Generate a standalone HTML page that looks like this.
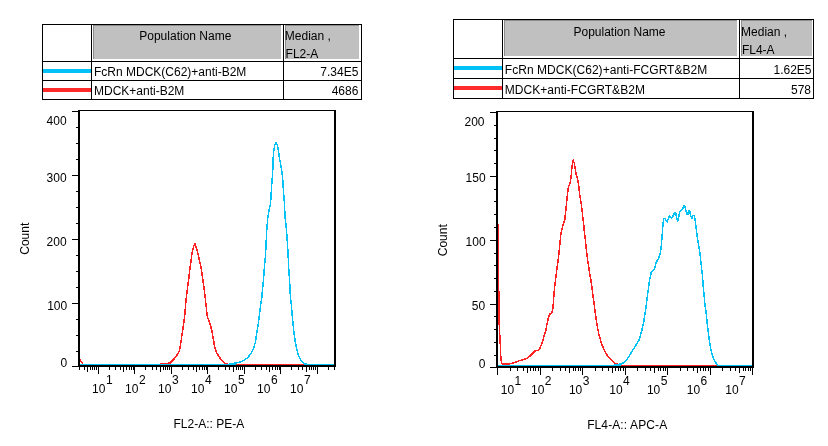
<!DOCTYPE html>
<html><head><meta charset="utf-8"><title>Histograms</title>
<style>
html,body{margin:0;padding:0;background:#fff;}
body{width:828px;height:446px;overflow:hidden;}
svg{display:block;}
svg text{font-family:"Liberation Sans",Arial,Helvetica,sans-serif;font-size:12px;fill:#000;}
</style></head><body>
<svg width="828" height="446" viewBox="0 0 828 446">
<rect width="828" height="446" fill="#fff"/>
<rect x="93" y="25" width="188" height="34" fill="#8c8c8c"/>
<rect x="94" y="26" width="187" height="33" fill="#c0c0c0"/>
<rect x="285" y="25" width="74" height="34" fill="#8c8c8c"/>
<rect x="286" y="26" width="73" height="33" fill="#c0c0c0"/>
<rect x="43" y="69" width="48" height="4" fill="#00c2f6"/>
<rect x="43" y="88" width="48" height="4" fill="#ff2a2a"/>
<rect x="42" y="24" width="320" height="1" fill="#000"/>
<rect x="42" y="61" width="320" height="1" fill="#000"/>
<rect x="42" y="80" width="320" height="1" fill="#000"/>
<rect x="42" y="99" width="320" height="1" fill="#000"/>
<rect x="42" y="24" width="1" height="76" fill="#000"/>
<rect x="91" y="24" width="1" height="76" fill="#000"/>
<rect x="283" y="24" width="1" height="76" fill="#000"/>
<rect x="361" y="24" width="1" height="76" fill="#000"/>
<text x="185.30" y="40.00" text-anchor="middle" >Population Name</text>
<text x="284.80" y="39.50" text-anchor="start" >Median ,</text>
<text x="285.60" y="57.50" text-anchor="start" >FL2-A</text>
<text x="94.00" y="76.00" text-anchor="start" >FcRn MDCK(C62)+anti-B2M</text>
<text x="358.40" y="76.00" text-anchor="end" >7.34E5</text>
<text x="94.00" y="94.50" text-anchor="start" >MDCK+anti-B2M</text>
<text x="358.40" y="94.50" text-anchor="end" >4686</text>
<rect x="504" y="20" width="233" height="36" fill="#8c8c8c"/>
<rect x="505" y="21" width="232" height="35" fill="#c0c0c0"/>
<rect x="741" y="20" width="71" height="36" fill="#8c8c8c"/>
<rect x="742" y="21" width="70" height="35" fill="#c0c0c0"/>
<rect x="454" y="66" width="48" height="4" fill="#00c2f6"/>
<rect x="454" y="86" width="48" height="4" fill="#ff2a2a"/>
<rect x="453" y="19" width="361" height="1" fill="#000"/>
<rect x="453" y="58" width="361" height="1" fill="#000"/>
<rect x="453" y="78" width="361" height="1" fill="#000"/>
<rect x="453" y="98" width="361" height="1" fill="#000"/>
<rect x="453" y="19" width="1" height="80" fill="#000"/>
<rect x="502" y="19" width="1" height="80" fill="#000"/>
<rect x="739" y="19" width="1" height="80" fill="#000"/>
<rect x="813" y="19" width="1" height="80" fill="#000"/>
<text x="619.50" y="36.00" text-anchor="middle" >Population Name</text>
<text x="741.10" y="35.75" text-anchor="start" >Median ,</text>
<text x="741.90" y="53.60" text-anchor="start" >FL4-A</text>
<text x="504.80" y="73.50" text-anchor="start" letter-spacing="0.035">FcRn MDCK(C62)+anti-FCGRT&amp;B2M</text>
<text x="811.50" y="73.50" text-anchor="end" >1.62E5</text>
<text x="504.80" y="94.20" text-anchor="start" letter-spacing="0.035">MDCK+anti-FCGRT&amp;B2M</text>
<text x="811.00" y="94.20" text-anchor="end" >578</text>
<rect x="80" y="364" width="156" height="1" fill="#00c2f6"/>
<rect x="304" y="364" width="30" height="1" fill="#00c2f6"/>
<polyline points="229.9,363.8 237.0,362.8 241.8,361.6 245.0,359.6 247.9,357.5 251.2,353.1 253.6,348.2 255.3,342.5 256.6,334.3 258.2,324.5 259.4,314.6 260.7,304.8 261.9,296.5 262.7,287.9 263.7,277.2 264.6,264.7 265.4,257.0 265.8,248.8 266.3,239.2 266.9,227.6 267.9,217.0 269.0,210.7 270.6,203.0 271.1,194.3 271.7,184.7 272.4,176.0 272.8,168.8 273.0,160.1 273.6,152.4 274.6,145.6 276.0,142.7 277.5,145.6 278.5,151.4 279.4,158.2 280.6,164.0 281.7,170.7 282.5,177.0 283.1,184.7 283.7,194.3 284.4,203.0 284.8,211.7 285.0,217.0 286.0,224.7 286.8,234.3 287.5,244.0 288.2,257.0 288.8,269.5 289.5,279.2 290.0,288.8 290.4,297.0 291.3,304.8 292.1,314.6 293.1,324.5 294.1,334.3 295.4,342.5 296.7,349.0 298.3,354.7 300.6,359.6 303.2,362.9 306.0,364.0" fill="none" stroke="#00c2f6" stroke-width="1.5" stroke-linejoin="round" stroke-linecap="round" shape-rendering="crispEdges"/>
<rect x="236" y="364" width="68" height="1" fill="#ff2222"/>
<polyline points="160.9,363.5 169.9,363.2 174.0,359.0 177.6,354.2 179.4,350.7 180.9,342.3 182.3,332.8 183.5,324.5 184.7,316.2 186.1,299.2 187.5,287.6 189.0,276.9 189.5,271.7 190.7,263.0 191.9,254.3 193.3,247.6 194.8,243.5 196.2,247.6 198.2,254.3 199.6,261.1 201.1,267.9 202.5,277.5 204.0,287.6 205.4,299.2 207.3,316.5 209.9,323.3 211.8,330.5 213.3,338.8 214.5,345.9 216.2,351.9 218.6,356.0 221.6,360.2 224.6,363.2 226.9,363.5" fill="none" stroke="#ff2222" stroke-width="1.5" stroke-linejoin="round" stroke-linecap="round" shape-rendering="crispEdges"/>
<polyline points="80.3,360.2 81.3,361.8 82.8,363.7" fill="none" stroke="#ff2222" stroke-width="1.5" stroke-linejoin="round" stroke-linecap="round" shape-rendering="crispEdges"/>
<rect x="78" y="110" width="2" height="257" fill="#000"/>
<rect x="78" y="110" width="258" height="1" fill="#000"/>
<rect x="334" y="110" width="2" height="257" fill="#000"/>
<rect x="78" y="365" width="258" height="2" fill="#000"/>
<rect x="72" y="111" width="6" height="1" fill="#000"/>
<rect x="72" y="175" width="6" height="1" fill="#000"/>
<rect x="72" y="239" width="6" height="1" fill="#000"/>
<rect x="72" y="303" width="6" height="1" fill="#000"/>
<rect x="72" y="366" width="6" height="1" fill="#000"/>
<rect x="76" y="127" width="2" height="1" fill="#000"/>
<rect x="76" y="143" width="2" height="1" fill="#000"/>
<rect x="76" y="159" width="2" height="1" fill="#000"/>
<rect x="76" y="191" width="2" height="1" fill="#000"/>
<rect x="76" y="207" width="2" height="1" fill="#000"/>
<rect x="76" y="223" width="2" height="1" fill="#000"/>
<rect x="76" y="255" width="2" height="1" fill="#000"/>
<rect x="76" y="271" width="2" height="1" fill="#000"/>
<rect x="76" y="287" width="2" height="1" fill="#000"/>
<rect x="76" y="319" width="2" height="1" fill="#000"/>
<rect x="76" y="335" width="2" height="1" fill="#000"/>
<rect x="76" y="351" width="2" height="1" fill="#000"/>
<text x="66.60" y="125.00" text-anchor="end" >400</text>
<text x="66.60" y="181.50" text-anchor="end" >300</text>
<text x="66.60" y="245.50" text-anchor="end" >200</text>
<text x="67.20" y="309.50" text-anchor="end" >100</text>
<text x="67.30" y="367.10" text-anchor="end" >0</text>
<rect x="79" y="367" width="1" height="3" fill="#000"/>
<rect x="84" y="367" width="1" height="3" fill="#000"/>
<rect x="87" y="367" width="1" height="5" fill="#000"/>
<rect x="90" y="367" width="1" height="3" fill="#000"/>
<rect x="92" y="367" width="1" height="3" fill="#000"/>
<rect x="94" y="367" width="1" height="3" fill="#000"/>
<rect x="96" y="367" width="1" height="3" fill="#000"/>
<rect x="98" y="367" width="1" height="7" fill="#000"/>
<rect x="109" y="367" width="1" height="3" fill="#000"/>
<rect x="115" y="367" width="1" height="3" fill="#000"/>
<rect x="120" y="367" width="1" height="3" fill="#000"/>
<rect x="123" y="367" width="1" height="5" fill="#000"/>
<rect x="126" y="367" width="1" height="3" fill="#000"/>
<rect x="129" y="367" width="1" height="3" fill="#000"/>
<rect x="131" y="367" width="1" height="3" fill="#000"/>
<rect x="133" y="367" width="1" height="3" fill="#000"/>
<rect x="134" y="367" width="1" height="7" fill="#000"/>
<rect x="145" y="367" width="1" height="3" fill="#000"/>
<rect x="152" y="367" width="1" height="3" fill="#000"/>
<rect x="156" y="367" width="1" height="3" fill="#000"/>
<rect x="160" y="367" width="1" height="5" fill="#000"/>
<rect x="163" y="367" width="1" height="3" fill="#000"/>
<rect x="165" y="367" width="1" height="3" fill="#000"/>
<rect x="167" y="367" width="1" height="3" fill="#000"/>
<rect x="169" y="367" width="1" height="3" fill="#000"/>
<rect x="171" y="367" width="1" height="7" fill="#000"/>
<rect x="182" y="367" width="1" height="3" fill="#000"/>
<rect x="188" y="367" width="1" height="3" fill="#000"/>
<rect x="193" y="367" width="1" height="3" fill="#000"/>
<rect x="196" y="367" width="1" height="5" fill="#000"/>
<rect x="199" y="367" width="1" height="3" fill="#000"/>
<rect x="202" y="367" width="1" height="3" fill="#000"/>
<rect x="204" y="367" width="1" height="3" fill="#000"/>
<rect x="206" y="367" width="1" height="3" fill="#000"/>
<rect x="207" y="367" width="1" height="7" fill="#000"/>
<rect x="218" y="367" width="1" height="3" fill="#000"/>
<rect x="225" y="367" width="1" height="3" fill="#000"/>
<rect x="229" y="367" width="1" height="3" fill="#000"/>
<rect x="233" y="367" width="1" height="5" fill="#000"/>
<rect x="236" y="367" width="1" height="3" fill="#000"/>
<rect x="238" y="367" width="1" height="3" fill="#000"/>
<rect x="240" y="367" width="1" height="3" fill="#000"/>
<rect x="242" y="367" width="1" height="3" fill="#000"/>
<rect x="244" y="367" width="1" height="7" fill="#000"/>
<rect x="255" y="367" width="1" height="3" fill="#000"/>
<rect x="261" y="367" width="1" height="3" fill="#000"/>
<rect x="266" y="367" width="1" height="3" fill="#000"/>
<rect x="269" y="367" width="1" height="5" fill="#000"/>
<rect x="272" y="367" width="1" height="3" fill="#000"/>
<rect x="275" y="367" width="1" height="3" fill="#000"/>
<rect x="277" y="367" width="1" height="3" fill="#000"/>
<rect x="279" y="367" width="1" height="3" fill="#000"/>
<rect x="280" y="367" width="1" height="7" fill="#000"/>
<rect x="291" y="367" width="1" height="3" fill="#000"/>
<rect x="298" y="367" width="1" height="3" fill="#000"/>
<rect x="302" y="367" width="1" height="3" fill="#000"/>
<rect x="306" y="367" width="1" height="5" fill="#000"/>
<rect x="309" y="367" width="1" height="3" fill="#000"/>
<rect x="311" y="367" width="1" height="3" fill="#000"/>
<rect x="313" y="367" width="1" height="3" fill="#000"/>
<rect x="315" y="367" width="1" height="3" fill="#000"/>
<rect x="317" y="367" width="1" height="7" fill="#000"/>
<rect x="328" y="367" width="1" height="3" fill="#000"/>
<rect x="334" y="367" width="1" height="3" fill="#000"/>
<text x="92.10" y="393.10" text-anchor="start" >10</text>
<text x="105.90" y="384.00" text-anchor="start" >1</text>
<text x="125.10" y="393.10" text-anchor="start" >10</text>
<text x="138.90" y="384.00" text-anchor="start" >2</text>
<text x="158.10" y="393.10" text-anchor="start" >10</text>
<text x="171.90" y="384.00" text-anchor="start" >3</text>
<text x="191.10" y="393.10" text-anchor="start" >10</text>
<text x="204.90" y="384.00" text-anchor="start" >4</text>
<text x="224.10" y="393.10" text-anchor="start" >10</text>
<text x="237.90" y="384.00" text-anchor="start" >5</text>
<text x="257.10" y="393.10" text-anchor="start" >10</text>
<text x="270.90" y="384.00" text-anchor="start" >6</text>
<text x="290.10" y="393.10" text-anchor="start" >10</text>
<text x="303.90" y="384.00" text-anchor="start" >7</text>
<text x="208.80" y="427.60" text-anchor="middle" >FL2-A:: PE-A</text>
<text transform="translate(29.30,238.70) rotate(-90)" text-anchor="middle">Count</text>
<rect x="498" y="365" width="122" height="1" fill="#00c2f6"/>
<rect x="717" y="365" width="35" height="1" fill="#00c2f6"/>
<polyline points="614.3,364.9 621.7,363.8 625.1,361.8 628.5,357.1 631.8,351.7 635.2,346.3 639.2,339.6 641.9,330.2 643.9,320.8 645.4,311.6 646.8,300.9 648.3,289.3 649.7,278.7 650.4,277.0 651.1,272.2 654.5,268.8 656.4,262.1 658.8,258.2 660.5,252.4 661.4,244.7 662.1,236.5 662.7,227.9 663.2,223.0 663.7,218.7 664.9,218.4 665.6,220.3 667.1,221.9 668.2,219.2 669.5,215.8 670.7,217.0 671.9,218.0 673.3,215.3 674.6,212.6 675.7,213.2 676.7,218.2 677.7,220.9 678.6,218.2 679.6,212.4 681.1,210.5 682.5,209.0 684.0,205.4 684.9,206.4 685.9,210.9 686.9,214.3 687.8,214.8 688.6,210.9 689.8,210.9 690.7,215.8 692.0,218.0 693.0,215.5 694.3,215.5 695.1,220.1 696.0,226.9 697.0,235.0 698.5,244.7 699.9,252.4 700.9,262.1 701.8,269.8 702.6,277.5 703.0,284.7 704.0,294.3 704.9,304.0 706.2,313.6 706.6,317.5 707.4,324.9 708.6,334.7 709.8,343.4 711.4,352.0 713.3,358.2 715.1,361.9 717.6,364.9" fill="none" stroke="#00c2f6" stroke-width="1.5" stroke-linejoin="round" stroke-linecap="round" shape-rendering="crispEdges"/>
<rect x="621" y="365" width="96" height="1" fill="#ff2222"/>
<rect x="498" y="224" width="1" height="67" fill="#ff2222"/>
<rect x="498" y="291" width="2" height="34" fill="#ff2222"/>
<rect x="499" y="325" width="1" height="11" fill="#ff2222"/>
<polyline points="499.9,335.0 500.3,345.0 500.7,355.0 501.4,362.0 502.1,363.8 503.4,363.8 509.4,363.8 514.0,362.7 518.8,360.9 526.5,358.7 529.4,356.6 535.7,350.3 538.1,350.3 540.1,347.9 543.0,340.6 543.6,337.5 545.9,330.6 546.8,325.0 548.3,318.2 549.7,314.3 552.1,312.4 553.1,306.6 553.8,296.5 554.6,286.9 556.0,276.3 557.5,264.7 558.6,256.0 559.9,244.0 560.9,234.0 562.5,227.0 564.7,220.0 565.9,209.3 566.9,199.7 567.8,192.0 568.5,186.7 570.1,182.9 571.1,177.1 571.7,169.3 572.4,164.5 573.3,160.1 574.3,163.5 575.3,169.3 576.2,174.2 577.5,179.0 578.5,183.8 579.1,188.6 579.4,192.5 580.6,199.7 582.0,209.3 583.0,219.0 584.0,226.7 584.4,232.5 585.3,239.7 586.3,249.3 587.5,259.0 589.0,268.6 589.5,272.5 590.8,279.7 592.2,289.3 593.7,300.9 595.1,311.5 596.8,323.5 598.8,334.2 601.5,343.6 604.9,351.7 608.3,357.1 613.6,362.5 619.0,364.9" fill="none" stroke="#ff2222" stroke-width="1.5" stroke-linejoin="round" stroke-linecap="round" shape-rendering="crispEdges"/>
<polyline points="614.3,364.9 621.7,363.8 625.1,361.8 628.5,357.1 631.8,351.7" fill="none" stroke="#00c2f6" stroke-width="1.5" stroke-linejoin="round" stroke-linecap="round" shape-rendering="crispEdges"/>
<rect x="614" y="365" width="7" height="1" fill="#00c2f6"/>
<rect x="496" y="111" width="2" height="257" fill="#000"/>
<rect x="496" y="111" width="258" height="1" fill="#000"/>
<rect x="752" y="111" width="2" height="257" fill="#000"/>
<rect x="496" y="366" width="258" height="2" fill="#000"/>
<rect x="490" y="112" width="6" height="1" fill="#000"/>
<rect x="490" y="176" width="6" height="1" fill="#000"/>
<rect x="490" y="240" width="6" height="1" fill="#000"/>
<rect x="490" y="304" width="6" height="1" fill="#000"/>
<rect x="490" y="367" width="6" height="1" fill="#000"/>
<rect x="494" y="125" width="2" height="1" fill="#000"/>
<rect x="494" y="138" width="2" height="1" fill="#000"/>
<rect x="494" y="150" width="2" height="1" fill="#000"/>
<rect x="494" y="163" width="2" height="1" fill="#000"/>
<rect x="494" y="189" width="2" height="1" fill="#000"/>
<rect x="494" y="201" width="2" height="1" fill="#000"/>
<rect x="494" y="214" width="2" height="1" fill="#000"/>
<rect x="494" y="227" width="2" height="1" fill="#000"/>
<rect x="494" y="253" width="2" height="1" fill="#000"/>
<rect x="494" y="265" width="2" height="1" fill="#000"/>
<rect x="494" y="278" width="2" height="1" fill="#000"/>
<rect x="494" y="291" width="2" height="1" fill="#000"/>
<rect x="494" y="316" width="2" height="1" fill="#000"/>
<rect x="494" y="329" width="2" height="1" fill="#000"/>
<rect x="494" y="342" width="2" height="1" fill="#000"/>
<rect x="494" y="355" width="2" height="1" fill="#000"/>
<text x="484.50" y="125.50" text-anchor="end" >200</text>
<text x="485.60" y="182.00" text-anchor="end" >150</text>
<text x="485.60" y="246.00" text-anchor="end" >100</text>
<text x="485.20" y="310.00" text-anchor="end" >50</text>
<text x="485.40" y="368.20" text-anchor="end" >0</text>
<rect x="497" y="368" width="1" height="7" fill="#000"/>
<rect x="510" y="368" width="1" height="3" fill="#000"/>
<rect x="517" y="368" width="1" height="3" fill="#000"/>
<rect x="523" y="368" width="1" height="3" fill="#000"/>
<rect x="527" y="368" width="1" height="5" fill="#000"/>
<rect x="530" y="368" width="1" height="3" fill="#000"/>
<rect x="533" y="368" width="1" height="3" fill="#000"/>
<rect x="535" y="368" width="1" height="3" fill="#000"/>
<rect x="538" y="368" width="1" height="3" fill="#000"/>
<rect x="540" y="368" width="1" height="7" fill="#000"/>
<rect x="552" y="368" width="1" height="3" fill="#000"/>
<rect x="560" y="368" width="1" height="3" fill="#000"/>
<rect x="565" y="368" width="1" height="3" fill="#000"/>
<rect x="569" y="368" width="1" height="5" fill="#000"/>
<rect x="573" y="368" width="1" height="3" fill="#000"/>
<rect x="575" y="368" width="1" height="3" fill="#000"/>
<rect x="578" y="368" width="1" height="3" fill="#000"/>
<rect x="580" y="368" width="1" height="3" fill="#000"/>
<rect x="582" y="368" width="1" height="7" fill="#000"/>
<rect x="595" y="368" width="1" height="3" fill="#000"/>
<rect x="602" y="368" width="1" height="3" fill="#000"/>
<rect x="608" y="368" width="1" height="3" fill="#000"/>
<rect x="612" y="368" width="1" height="5" fill="#000"/>
<rect x="615" y="368" width="1" height="3" fill="#000"/>
<rect x="618" y="368" width="1" height="3" fill="#000"/>
<rect x="620" y="368" width="1" height="3" fill="#000"/>
<rect x="623" y="368" width="1" height="3" fill="#000"/>
<rect x="625" y="368" width="1" height="7" fill="#000"/>
<rect x="637" y="368" width="1" height="3" fill="#000"/>
<rect x="645" y="368" width="1" height="3" fill="#000"/>
<rect x="650" y="368" width="1" height="3" fill="#000"/>
<rect x="654" y="368" width="1" height="5" fill="#000"/>
<rect x="658" y="368" width="1" height="3" fill="#000"/>
<rect x="660" y="368" width="1" height="3" fill="#000"/>
<rect x="663" y="368" width="1" height="3" fill="#000"/>
<rect x="665" y="368" width="1" height="3" fill="#000"/>
<rect x="667" y="368" width="1" height="7" fill="#000"/>
<rect x="680" y="368" width="1" height="3" fill="#000"/>
<rect x="687" y="368" width="1" height="3" fill="#000"/>
<rect x="693" y="368" width="1" height="3" fill="#000"/>
<rect x="697" y="368" width="1" height="5" fill="#000"/>
<rect x="700" y="368" width="1" height="3" fill="#000"/>
<rect x="703" y="368" width="1" height="3" fill="#000"/>
<rect x="705" y="368" width="1" height="3" fill="#000"/>
<rect x="708" y="368" width="1" height="3" fill="#000"/>
<rect x="710" y="368" width="1" height="7" fill="#000"/>
<rect x="722" y="368" width="1" height="3" fill="#000"/>
<rect x="730" y="368" width="1" height="3" fill="#000"/>
<rect x="735" y="368" width="1" height="3" fill="#000"/>
<rect x="739" y="368" width="1" height="5" fill="#000"/>
<rect x="743" y="368" width="1" height="3" fill="#000"/>
<rect x="745" y="368" width="1" height="3" fill="#000"/>
<rect x="748" y="368" width="1" height="3" fill="#000"/>
<rect x="750" y="368" width="1" height="3" fill="#000"/>
<rect x="752" y="368" width="1" height="7" fill="#000"/>
<text x="500.80" y="394.10" text-anchor="start" >10</text>
<text x="514.60" y="385.00" text-anchor="start" >1</text>
<text x="531.00" y="394.10" text-anchor="start" >10</text>
<text x="544.80" y="385.00" text-anchor="start" >2</text>
<text x="568.90" y="394.10" text-anchor="start" >10</text>
<text x="582.70" y="385.00" text-anchor="start" >3</text>
<text x="609.30" y="394.10" text-anchor="start" >10</text>
<text x="623.10" y="385.00" text-anchor="start" >4</text>
<text x="646.90" y="394.10" text-anchor="start" >10</text>
<text x="660.70" y="385.00" text-anchor="start" >5</text>
<text x="686.80" y="394.10" text-anchor="start" >10</text>
<text x="700.60" y="385.00" text-anchor="start" >6</text>
<text x="725.30" y="394.10" text-anchor="start" >10</text>
<text x="739.10" y="385.00" text-anchor="start" >7</text>
<text x="627.20" y="428.70" text-anchor="middle" letter-spacing="0.11">FL4-A:: APC-A</text>
<text transform="translate(446.70,240.20) rotate(-90)" text-anchor="middle">Count</text>
</svg>
</body></html>
